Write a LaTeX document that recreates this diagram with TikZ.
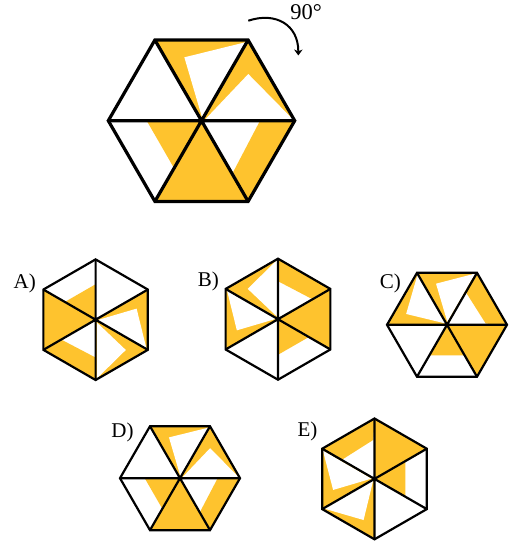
\documentclass[tikz,border=0pt]{standalone}
\usepackage{fontspec}
\setmainfont{Liberation Serif}
\usetikzlibrary{arrows.meta}
\definecolor{hy}{RGB}{254,195,46}
\tikzset{
  yel/.style={fill=hy},
  wht/.style={fill=white},
  hexline/.style={draw=black, line join=miter},
  lbl/.style={font=\fontsize{21}{21}\selectfont, inner sep=0pt, anchor=center},
  rotarrow/.style={line width=2pt, -{Stealth[length=6pt,width=8.5pt]}}
}
% one hexagon of six triangles, unit radius, flat top; #1 = line width
\newcommand{\hexpat}[1]{%
  % bottom triangle: all yellow
  \fill[yel] (0,0) -- (0.5,-0.866) -- (-0.5,-0.866) -- cycle;
  % top triangle: yellow with a white piece
  \fill[yel] (0,0) -- (-0.5,0.866) -- (0.5,0.866) -- cycle;
  \fill[wht] (-0.184,0.68) -- (0.485,0.845) -- (0.01,0.02) -- cycle;
  % upper right triangle: yellow with a white piece
  \fill[yel] (0,0) -- (0.5,0.866) -- (1,0) -- cycle;
  \fill[wht] (0.502,0.501) -- (0.975,0.02) -- (0.045,0.02) -- cycle;
  % lower right triangle: white with a yellow strip
  \fill[yel] (0.628,0) -- (1,0) -- (0.5,-0.866) -- (0.34,-0.55) -- cycle;
  % lower left triangle: white with a yellow piece
  \fill[yel] (-0.588,0) -- (0,0) -- (-0.30,-0.50) -- cycle;
  % lines
  \draw[hexline, line width=#1] (1,0) -- (0.5,0.866) -- (-0.5,0.866) -- (-1,0)
       -- (-0.5,-0.866) -- (0.5,-0.866) -- cycle;
  \draw[hexline, line width=#1] (1,0) -- (-1,0) (0.5,0.866) -- (-0.5,-0.866)
       (-0.5,0.866) -- (0.5,-0.866);
}
\begin{document}
\begin{tikzpicture}[x=1pt,y=-1pt]
\useasboundingbox[fill=white] (0,0) rectangle (511,545);

% main hexagon
\begin{scope}[shift={(201.5,120.7)}, x=93.2pt, y=93.2pt]
  \hexpat{3.2pt}
\end{scope}

% rotation arrow
\coordinate (arrs) at (248.3,20.7);
\coordinate (arre) at (298.3,55.5);
\draw[rotarrow] (arrs) .. controls (276,11.5) and (298.5,25) .. (arre);
\node[font=\fontsize{22.5}{22.5}\selectfont, inner sep=0pt] (deg) at (306,12) {90°};

% option A
\begin{scope}[shift={(95.6,319.7)}, x=60.3pt, y=60.3pt, rotate=-90]
  \hexpat{2.2pt}
\end{scope}
\node[lbl] (la) at (24.7,283.3) {A)};

% option B
\begin{scope}[shift={(278,319.2)}, x=60.5pt, y=60.5pt, rotate=90]
  \hexpat{2.2pt}
\end{scope}
\node[lbl] (lb) at (208.3,281) {B)};

% option C
\begin{scope}[shift={(447,324.8)}, x=60pt, y=60pt, rotate=60]
  \hexpat{2.2pt}
\end{scope}
\node[lbl] (lc) at (390.3,283) {C)};

% option D
\begin{scope}[shift={(180,478.2)}, x=60pt, y=60pt]
  \hexpat{2.2pt}
\end{scope}
\node[lbl] (ld) at (122.5,432.5) {D)};

% option E
\begin{scope}[shift={(374.5,478.9)}, x=60.4pt, y=60.4pt, rotate=150]
  \hexpat{2.2pt}
\end{scope}
\node[lbl] (le) at (307.5,431.7) {E)};
\end{tikzpicture}
\end{document}
